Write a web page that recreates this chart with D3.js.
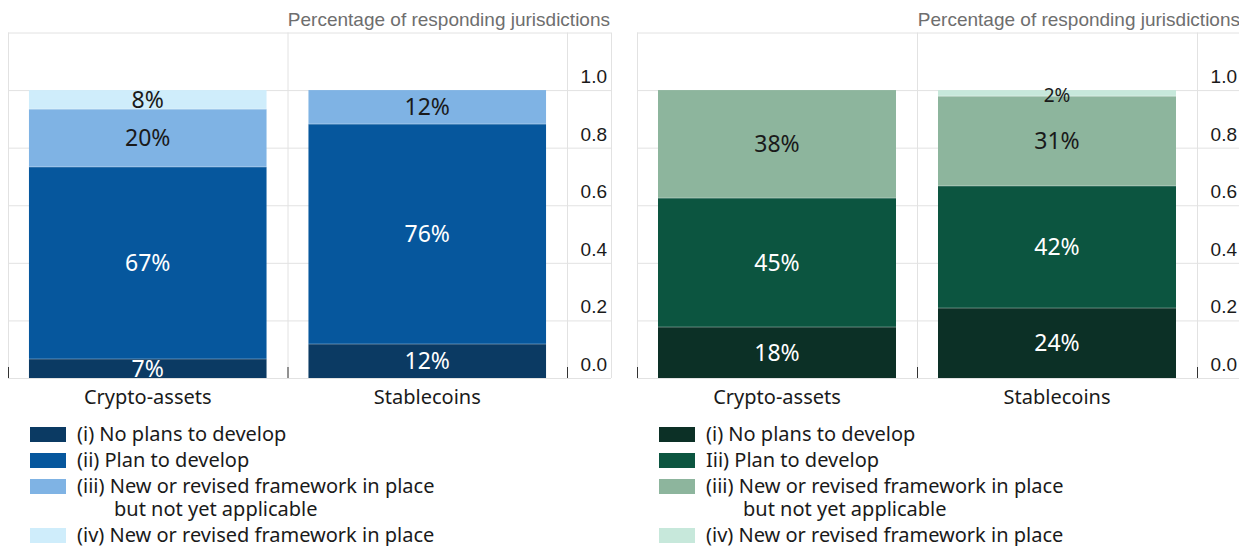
<!DOCTYPE html>
<html>
<head>
<meta charset="utf-8">
<script src="https://cdn.jsdelivr.net/npm/d3@7"></script>
<style>
  body { margin: 0; background: #fff; }
  svg { display: block; }
</style>
</head>
<body>
<div id="vis-container"></div>
<script>
// chart size
const width = 1239;
const height = 546;

// data
const categories = ["Crypto-assets", "Stablecoins"];
const yTicks = [0, 0.2, 0.4, 0.6, 0.8, 1.0];
const unitTitle = "Percentage of responding jurisdictions";

// left panel (blue) - segments bottom to top
const leftNoPlans = [0.066, 0.118];
const leftPlan = [0.667, 0.764];
const leftNotYet = [0.201, 0.118];
const leftInPlace = [0.066, 0];
const leftLabels = [["7%", "67%", "20%", "8%"], ["12%", "76%", "12%", ""]];
const leftLegend = ["(i) No plans to develop", "(ii) Plan to develop",
    "(iii) New or revised framework in place|but not yet applicable",
    "(iv) New or revised framework in place"];

// right panel (green)
const rightNoPlans = [0.177, 0.243];
const rightPlan = [0.448, 0.424];
const rightNotYet = [0.375, 0.312];
const rightInPlace = [0, 0.021];
const rightLabels = [["18%", "45%", "38%", ""], ["24%", "42%", "31%", "2%"]];
const rightLegend = ["(i) No plans to develop", "Iii) Plan to develop",
    "(iii) New or revised framework in place|but not yet applicable",
    "(iv) New or revised framework in place"];

const blues = ["#0b3a63", "#06579d", "#7fb3e4", "#cfedfb"];
const greens = ["#0c3026", "#0c5540", "#8db59d", "#c7e8db"];
const textColors = ["#fff", "#fff", "#1a1a1a", "#1a1a1a"];

const svg = d3.select("#vis-container")
    .append("svg")
    .attr("width", width)
    .attr("height", height);

const y = d3.scaleLinear()
    .domain([0, 1.2])
    .range([378, 32.5]);

function drawPanel(x0, x1, series, labels, colors, legend) {
    const g = svg.append("g");

    const x = d3.scaleBand()
        .domain(categories)
        .range([x0, x1])
        .paddingInner(0.15)
        .paddingOuter(0.075);

    const right = x1 + 44;

    // horizontal grid (incl. top border at 1.2)
    g.selectAll(".hgrid")
        .data(yTicks.concat([1.2]))
        .enter()
        .append("line")
        .attr("x1", x0).attr("x2", right)
        .attr("y1", d => y(d) + 0.5).attr("y2", d => y(d) + 0.5)
        .attr("stroke", "#e2e2e2");

    // vertical grid at band edges
    const vx = [x0, x0 + x.step(), x1, right];
    g.selectAll(".vgrid")
        .data(vx)
        .enter()
        .append("line")
        .attr("x1", d => d + 0.5).attr("x2", d => d + 0.5)
        .attr("y1", y(1.2)).attr("y2", y(0))
        .attr("stroke", "#e2e2e2");

    // stacked bars
    const rows = categories.map((c, i) => {
        const r = { cat: c, i: i };
        series.forEach((s, k) => { r["s" + k] = s[i]; });
        return r;
    });
    const stack = d3.stack().keys(series.map((s, k) => "s" + k));
    const stacked = stack(rows);

    stacked.forEach((layer, k) => {
        g.selectAll(".seg" + k)
            .data(layer)
            .enter()
            .append("rect")
            .attr("x", d => x(d.data.cat))
            .attr("y", d => y(d[1]))
            .attr("width", x.bandwidth())
            .attr("height", d => y(d[0]) - y(d[1]))
            .attr("fill", colors[k]);
    });

    // separators between segments
    stacked.slice(1).forEach((layer) => {
        g.selectAll(null)
            .data(layer.filter(d => d[1] > d[0]))
            .enter()
            .append("line")
            .attr("x1", d => x(d.data.cat))
            .attr("x2", d => x(d.data.cat) + x.bandwidth())
            .attr("y1", d => y(d[0]))
            .attr("y2", d => y(d[0]))
            .attr("stroke", "#ffffff")
            .attr("stroke-opacity", 0.35);
    });

    // labels
    stacked.forEach((layer, k) => {
        g.selectAll(".lab" + k)
            .data(layer.filter(d => labels[d.data.i][k] !== ""))
            .enter()
            .append("text")
            .attr("x", d => x(d.data.cat) + x.bandwidth() / 2)
            .attr("y", d => {
                const mid = (y(d[0]) + y(d[1])) / 2;
                return (y(d[0]) - y(d[1])) < 12 ? y(d[1]) + 5 : mid;
            })
            .attr("dy", "0.35em")
            .attr("text-anchor", "middle")
            .attr("font-family", "Noto Sans, sans-serif")
            .attr("font-size", (y(layer[0][0]) - y(layer[0][1])) < 12 && k == 3 ? "19px" : "23px")
            .attr("fill", textColors[k])
            .text(d => labels[d.data.i][k]);
    });

    // small ticks at band edges
    g.selectAll(".tick")
        .data([x0, x0 + x.step(), x1])
        .enter()
        .append("line")
        .attr("x1", d => d + 0.5).attr("x2", d => d + 0.5)
        .attr("y1", y(0) - 11).attr("y2", y(0))
        .attr("stroke", "#333");

    // y axis labels on the right
    g.selectAll(".ylab")
        .data(yTicks)
        .enter()
        .append("text")
        .attr("x", right - 4)
        .attr("y", d => y(d) - 7)
        .attr("text-anchor", "end")
        .attr("font-family", "Liberation Sans, Arial, sans-serif")
        .attr("font-size", "19px")
        .attr("fill", "#1a1a1a")
        .text(d => d.toFixed(1));

    // unit title
    g.append("text")
        .attr("x", right - 1)
        .attr("y", 26)
        .attr("text-anchor", "end")
        .attr("font-family", "Liberation Sans, Arial, sans-serif")
        .attr("font-size", "19px")
        .attr("fill", "#6e6e6e")
        .text(unitTitle);

    // category labels
    g.selectAll(".cat")
        .data(categories)
        .enter()
        .append("text")
        .attr("x", d => x(d) + x.bandwidth() / 2)
        .attr("y", 397)
        .attr("dy", "0.35em")
        .attr("text-anchor", "middle")
        .attr("font-family", "Noto Sans, sans-serif")
        .attr("font-size", "20px")
        .attr("fill", "#1a1a1a")
        .text(d => d);

    // legend
    const lx = x0 + 22;
    const rowY = [434, 460, 486, 535];
    legend.forEach((txt, k) => {
        g.append("rect")
            .attr("x", lx)
            .attr("y", rowY[k] - 7)
            .attr("width", 36)
            .attr("height", 15)
            .attr("fill", colors[k]);
        const parts = txt.split("|");
        const t = g.append("text")
            .attr("font-family", "Noto Sans, sans-serif")
            .attr("font-size", "20px")
            .attr("fill", "#1a1a1a");
        t.append("tspan")
            .attr("x", lx + 47)
            .attr("y", rowY[k])
            .attr("dy", "0.35em")
            .text(parts[0]);
        if (parts[1]) {
            t.append("tspan")
                .attr("x", lx + 84)
                .attr("y", rowY[k] + 23)
                .attr("dy", "0.35em")
                .text(parts[1]);
        }
    });
}

drawPanel(8, 567, [leftNoPlans, leftPlan, leftNotYet, leftInPlace], leftLabels, blues, leftLegend);
drawPanel(637, 1197, [rightNoPlans, rightPlan, rightNotYet, rightInPlace], rightLabels, greens, rightLegend);
</script>
</body>
</html>
